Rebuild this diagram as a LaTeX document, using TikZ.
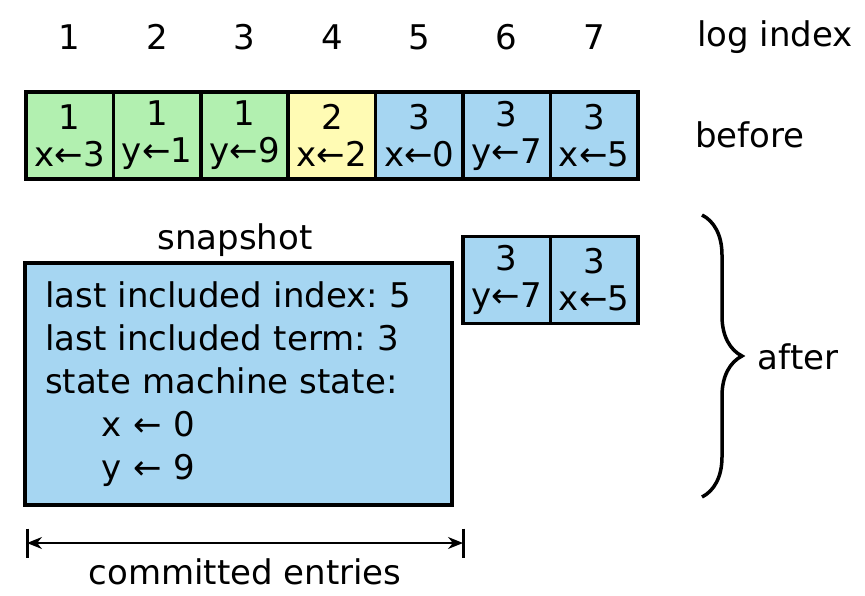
\documentclass[tikz,border=0pt]{standalone}
\usepackage{fontspec}
\setmainfont{DejaVu Sans}
\usetikzlibrary{arrows.meta,positioning,decorations.pathreplacing}
\definecolor{termone}{RGB}{178,240,176}
\definecolor{termtwo}{RGB}{255,251,180}
\definecolor{termthree}{RGB}{166,214,242}
\frenchspacing

\begin{document}
\begin{tikzpicture}[x=1pt, y=-1pt,
    every node/.style={font=\fontsize{34}{37}\selectfont, inner sep=0pt},
    logcell/.style={draw, line width=3.5pt, minimum width=87.4pt, minimum height=87pt, align=center}]
    \useasboundingbox (0,0) rectangle (865,595);
    % log before compaction
    \foreach \i/\t/\op/\c in {1/1/x←3/termone, 2/1/y←1/termone, 3/1/y←9/termone, 4/2/x←2/termtwo,
                               5/3/x←0/termthree, 6/3/y←7/termthree, 7/3/x←5/termthree} {
        \node[logcell, fill=\c] (cell\i) at ({69.7+(\i-1)*87.4}, 135.5) {\t\\\op};
        \node (idx\i) at ({69.7+(\i-1)*87.4}, 37) {\i};
    }
    \node (logindex) at (775,37) {log index};
    \node (before) at (750,135) {before};
    % log after compaction
    \node[logcell, fill=termthree] (after6) at (506.7,280) {3\\y←7};
    \node[logcell, fill=termthree] (after7) at (594.1,280) {3\\x←5};
    \node[draw, line width=3.5pt, fill=termthree, minimum width=427pt, minimum height=242pt,
          text width=387pt, inner xsep=20pt, align=left, font=\fontsize{34}{43}\selectfont] (snap) at (238.5,384)
          {last included index: 5\\last included term: 3\\state machine state:\\
           \hspace*{57pt}x ← 0\\\hspace*{57pt}y ← 9};
    \node (snaplabel) at (235,240) {snapshot};
    % committed entries
    \coordinate (cl) at (27,543);
    \coordinate (cr) at (463,543);
    \draw[line width=3pt] ([yshift=14.5pt]cl) -- ([yshift=-14.5pt]cl);
    \draw[line width=3pt] ([yshift=14.5pt]cr) -- ([yshift=-14.5pt]cr);
    \draw[{Stealth[length=15pt,width=12pt]}-{Stealth[length=15pt,width=12pt]}, line width=1.5pt] (cl) -- (cr);
    \node (committed) at (245,572) {committed entries};
    % brace
    \coordinate (bracetop) at (702,215);
    \coordinate (bracebot) at (702,497);
    \draw[decorate, decoration={brace, amplitude=40pt}, line width=3.5pt] (bracetop) -- (bracebot);
    \node (after) at (798,357) {after};
\end{tikzpicture}
\end{document}
